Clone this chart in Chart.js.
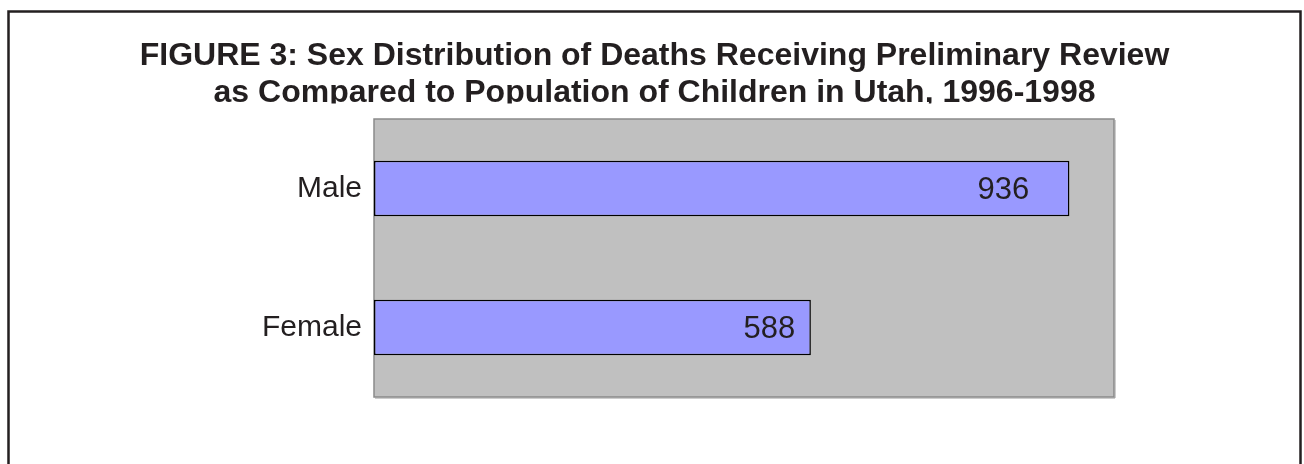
<!DOCTYPE html>
<html>
<head>
<meta charset="utf-8">
<script src="https://cdn.jsdelivr.net/npm/chart.js@4/dist/chart.umd.min.js"></script>
<style>
	body { margin: 0; background: #fff; }
	canvas { display: block; }
</style>
</head>
<body>
<canvas id="myCanvasBarGraph" width="1304" height="464"></canvas>
<script>
var categories = ["Male", "Female"];
var deaths = [936, 588];
var titleLines = [
	"FIGURE 3: Sex Distribution of Deaths Receiving Preliminary Review",
	"as Compared to Population of Children in Utah, 1996-1998"
];

var textColor = '#231f20';

// gray plot box + outer frame, drawn before the bars
var plotBox = {
	id: 'plotBox',
	beforeDraw: function(chart){
		var ctx = chart.ctx;
		var a = chart.chartArea;
		ctx.save();
		ctx.fillStyle = '#fff';
		ctx.fillRect(0, 0, chart.width, chart.height);
		ctx.strokeStyle = '#231f20';
		ctx.lineWidth = 2.5;
		ctx.strokeRect(8.5, 11.5, 1292, 520);
		ctx.fillStyle = '#c0c0c0';
		ctx.fillRect(a.left, a.top, a.right - a.left, a.bottom - a.top);
		ctx.strokeStyle = '#8a8a8a';
		ctx.lineWidth = 1.5;
		ctx.strokeRect(a.left, a.top, a.right - a.left, a.bottom - a.top);
		// slight shadow on right and bottom edges
		ctx.beginPath();
		ctx.moveTo(a.right + 1, a.top + 1);
		ctx.lineTo(a.right + 1, a.bottom + 1);
		ctx.lineTo(a.left + 1, a.bottom + 1);
		ctx.strokeStyle = '#9a9a9a';
		ctx.lineWidth = 1;
		ctx.stroke();

		// two line title, centred on the frame (second line is cut just under the baseline in the original)
		ctx.font = 'bold 32px "Liberation Sans", Arial, sans-serif';
		ctx.fillStyle = textColor;
		ctx.textAlign = 'center';
		ctx.textBaseline = 'alphabetic';
		ctx.fillText(titleLines[0], 654.5, 64.5);
		ctx.beginPath();
		ctx.rect(0, 70, chart.width, 33.5);
		ctx.clip();
		ctx.fillText(titleLines[1], 654.5, 101.5);
		ctx.restore();
	}
};

// value text inside the bar end
var valueLabels = {
	id: 'valueLabels',
	afterDatasetsDraw: function(chart){
		var ctx = chart.ctx;
		var meta = chart.getDatasetMeta(0);
		var xs = chart.scales.x;
		ctx.save();
		ctx.font = '31px "Liberation Sans", Arial, sans-serif';
		ctx.fillStyle = textColor;
		ctx.textAlign = 'center';
		ctx.textBaseline = 'middle';
		for(var i in meta.data){
			var bar = meta.data[i];
			var v = deaths[i];
			ctx.fillText(String(v), xs.getPixelForValue(v * 0.905), bar.y + 2);
		}
		ctx.restore();
	}
};

var chartdata = {
	labels: categories,
	datasets: [
		{
			label: "Deaths",
			data: deaths,
			backgroundColor: '#9999ff',
			borderColor: '#000',
			borderWidth: 1.5,
			borderSkipped: false,
			barPercentage: 0.4,
			categoryPercentage: 1.0
		}
	]
};

var ctx = document.getElementById("myCanvasBarGraph");

var BarGraph = new Chart(ctx, {
	type: 'bar',
	data: chartdata,
	plugins: [plotBox, valueLabels],
	options: {
		indexAxis: 'y',
		responsive: false,
		animation: false,
		layout: { padding: { left: 0, right: 190, top: 119, bottom: 67 } },
		plugins: {
			legend: { display: false },
			tooltip: { enabled: false },
			title: { display: false }
		},
		scales: {
			x: {
				display: false,
				min: 0,
				max: 996
			},
			y: {
				afterFit: function(scale){ scale.width = 374; },
				grid: { display: false, drawTicks: false },
				border: { display: false },
				ticks: {
					padding: 12,
					color: textColor,
					font: { family: '"Liberation Sans", Arial, sans-serif', size: 30 }
				}
			}
		}
	}
});
</script>
</body>
</html>
